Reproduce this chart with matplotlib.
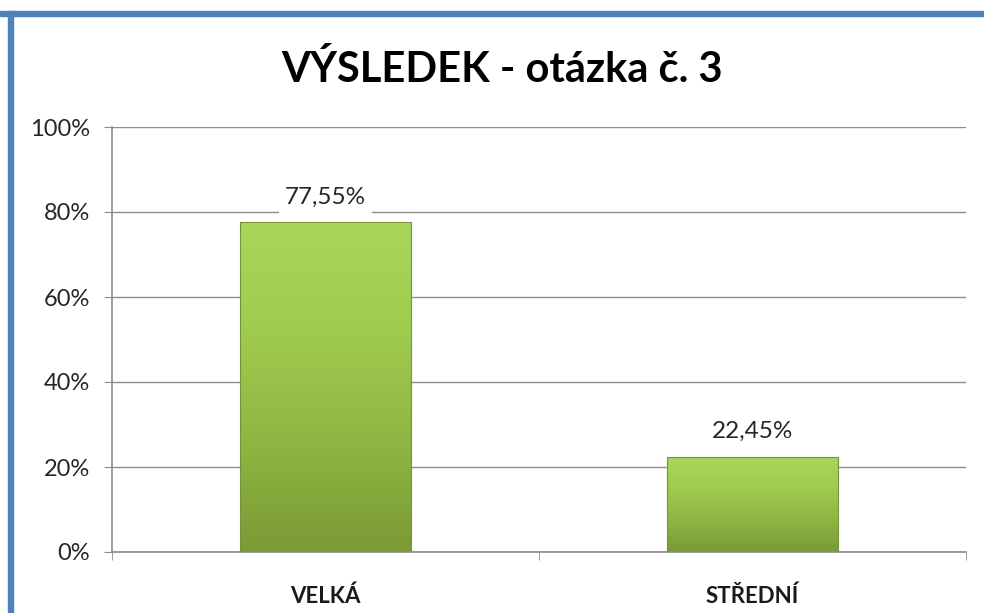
import matplotlib.pyplot as plt
import numpy as np
from matplotlib.colors import LinearSegmentedColormap
from matplotlib.patches import Rectangle
from matplotlib.ticker import FuncFormatter, FixedLocator

plt.rcParams['font.family'] = ['Lato', 'DejaVu Sans']

categories = ['VELKÁ', 'STŘEDNÍ']
values = [77.55, 22.45]
value_labels = ['77,55%', '22,45%']
title = 'VÝSLEDEK - otázka č. 3'

fig = plt.figure(figsize=(9.84, 6.13), dpi=100)
W, H = 984, 613

# blue frame (top and left edges visible)
fig.patches.append(Rectangle((0, 1 - 16 / H), 1, 5 / H, transform=fig.transFigure,
                             color='#4f81bd', zorder=0))
fig.patches.append(Rectangle((8 / W, 0), 5 / W, 1 - 11 / H, transform=fig.transFigure,
                             color='#4f81bd', zorder=0))

ax = fig.add_axes([112 / W, 1 - 552 / H, (966 - 112) / W, (552 - 127) / H])

x = np.arange(len(categories))
bars = ax.bar(x, values, width=0.4, color='none', edgecolor='#76923c', linewidth=0.8, zorder=3)

green = LinearSegmentedColormap.from_list('g', ['#7a9a35', '#8fb642', '#9fcb4e', '#aad65c'])
grad = np.linspace(0, 1, 256).reshape(-1, 1)
for b in bars:
    x0, y0 = b.get_x(), b.get_y()
    im = ax.imshow(grad, cmap=green, origin='lower', aspect='auto',
                   extent=[x0, x0 + b.get_width(), y0, y0 + b.get_height()], zorder=2)
    im.set_clip_path(b)

for xi, v, lab in zip(x, values, value_labels):
    ax.annotate(lab, (xi, v), xytext=(0, 18), textcoords='offset points',
                ha='center', va='center', fontsize=17.5, color='#262626', zorder=5,
                bbox=dict(boxstyle='square,pad=0.25', fc='white', ec='none'))

ax.set_xlim(-0.5, len(categories) - 0.5)
ax.set_ylim(0, 100)
ax.set_yticks([0, 20, 40, 60, 80, 100])
ax.yaxis.set_major_formatter(FuncFormatter(lambda v, p: f'{int(v)}%'))
ax.grid(axis='y', color='#8c8c8c', linewidth=1, zorder=1)
ax.set_axisbelow(True)

ax.set_xticks(x)
ax.set_xticklabels(categories, fontsize=16, fontweight='bold', color='#1a1a1a')
ax.xaxis.set_minor_locator(FixedLocator([-0.5, 0.5, 1.5]))
ax.tick_params(axis='x', which='major', length=0, pad=24)
ax.tick_params(axis='x', which='minor', length=6, color='#8c8c8c', direction='out')
ax.tick_params(axis='y', length=6, color='#8c8c8c', labelsize=17, labelcolor='#262626', pad=10)

for s in ['top', 'right']:
    ax.spines[s].set_visible(False)
for s in ['left', 'bottom']:
    ax.spines[s].set_color('#8c8c8c')
    ax.spines[s].set_linewidth(1.2)

fig.text(502 / W, 1 - 70 / H, title, ha='center', va='center', fontsize=30,
         fontweight='bold', color='black')

fig.savefig('out.png', dpi=100)
